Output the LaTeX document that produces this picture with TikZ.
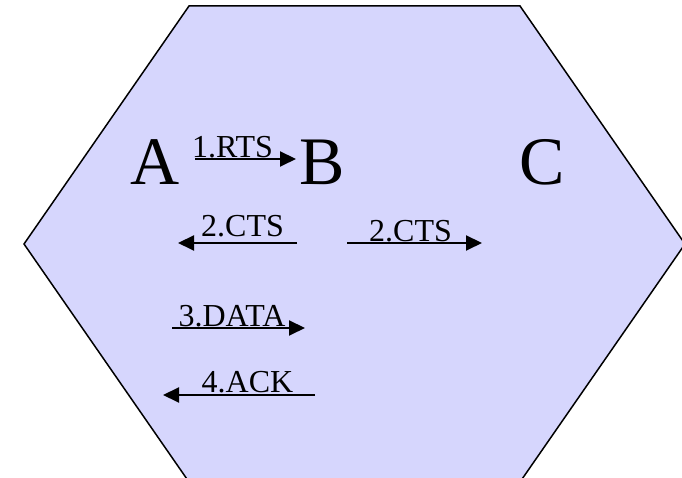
\documentclass[tikz,border=0pt]{standalone}
\usepackage{fontspec}
\setmainfont{Liberation Serif}
\usetikzlibrary{arrows.meta}
\definecolor{hexfill}{RGB}{214,214,253}
\begin{document}
\begin{tikzpicture}[x=10pt,y=10pt,>={Triangle[length=16pt,width=15pt]},line width=2pt]
\useasboundingbox (0,0) rectangle (68.2,47.8);
\clip (0,0) rectangle (68.2,47.8);
\tikzset{big/.style={inner sep=0pt,anchor=base,font=\fontsize{68}{70}\selectfont},
lab/.style={inner sep=0pt,anchor=base,font=\fontsize{32}{34}\selectfont}}

\draw[fill=hexfill,line width=1.5pt](18.9,47.2)--(52.0,47.2)--(68.5,23.4)--(52.0,-0.4)--(18.9,-0.4)--(2.4,23.4)--cycle;

\node[big](A) at (15.55,29.3){A};
\node[big](B) at (32.25,29.3){B};
\node[big](C) at (54.2,29.3){C};

\coordinate (P1) at (19.5,31.9);
\coordinate (P2) at (29.6,31.9);
\coordinate (P3) at (29.7,23.5);
\coordinate (P4) at (17.8,23.5);
\coordinate (P5) at (34.7,23.5);
\coordinate (P6) at (48.2,23.5);
\coordinate (P7) at (17.2,15.0);
\coordinate (P8) at (30.5,15.0);
\coordinate (P9) at (31.5,8.3);
\coordinate (P10) at (16.3,8.3);

\draw[->](P1)--(P2);
\draw[->](P3)--(P4);
\draw[->](P5)--(P6);
\draw[->](P7)--(P8);
\draw[->](P9)--(P10);

\node[lab](L1) at (23.25,32.0){1.RTS};
\node[lab](L2) at (24.25,24.1){2.CTS};
\node[lab](L3) at (41.05,23.6){2.CTS};
\node[lab](L4) at (23.2,15.1){3.DATA};
\node[lab](L5) at (24.75,8.5){4.ACK};
\end{tikzpicture}
\end{document}
